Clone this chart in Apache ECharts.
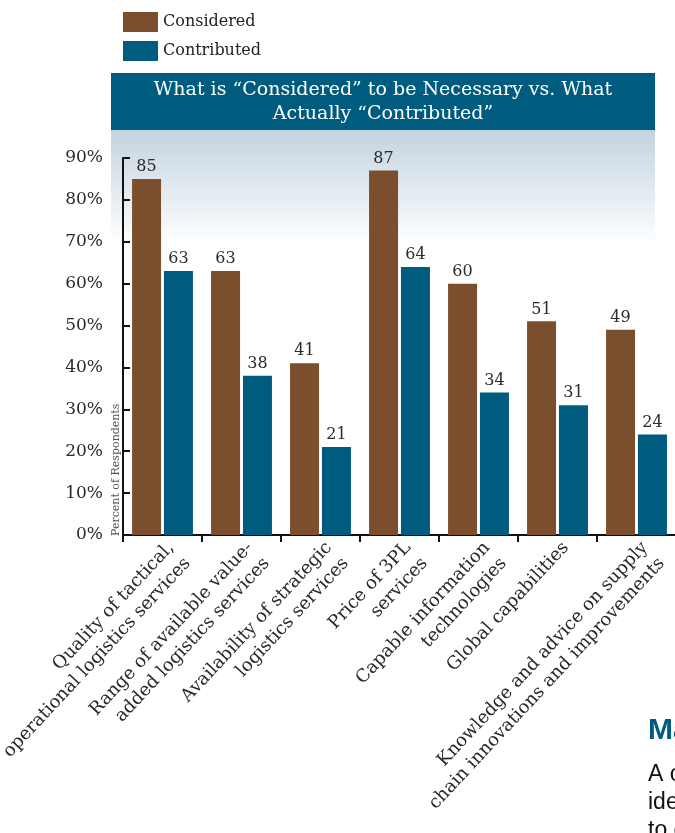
<!DOCTYPE html>
<html>
<head>
<meta charset="utf-8">
<script src="https://cdn.jsdelivr.net/npm/echarts@6/dist/echarts.min.js"></script>
<style>
html,body{margin:0;padding:0;background:#fff;}
#chart{width:675px;height:833px;}
</style>
</head>
<body>
<div id="chart"></div>
<script>
var categories = [
  "Quality of tactical,\noperational logistics services",
  "Range of available value-\nadded logistics services",
  "Availability of strategic\nlogistics services",
  "Price of 3PL\nservices",
  "Capable information\ntechnologies",
  "Global capabilities",
  "Knowledge and advice on supply\nchain innovations and improvements"
];
var considered = [85, 63, 41, 87, 60, 51, 49];
var contributed = [63, 38, 21, 64, 34, 31, 24];
var yTicks = [0, 10, 20, 30, 40, 50, 60, 70, 80, 90];
var titleText = "What is \u201cConsidered\u201d to be Necessary vs. What\nActually \u201cContributed\u201d";

var SERIF = "DejaVu Serif";
var BROWN = "#7b4f2d";
var BLUE = "#005c7e";

var chart = echarts.init(document.getElementById('chart'));
chart.setOption({
  animation: false,
  backgroundColor: '#fff',
  legend: {
    orient: 'vertical',
    left: 123, top: 12, padding: 0,
    itemWidth: 35, itemHeight: 20, itemGap: 9,
    icon: 'rect',
    textStyle: {fontFamily: SERIF, fontSize: 16, color: '#222'},
    data: ['Considered', 'Contributed']
  },
  graphic: [
    {type: 'rect', z: -10, shape: {x: 111, y: 130, width: 544, height: 115},
     style: {fill: new echarts.graphic.LinearGradient(0,0,0,1,[{offset:0,color:'#c3d3e0'},{offset:1,color:'#ffffff'}])}},
    {type: 'rect', z: -5, shape: {x: 111, y: 73, width: 544, height: 57}, style: {fill: BLUE}},
    {type: 'text', z: -4, x: 383, y: 102, style: {text: titleText, fill: '#fff', font: '19px "DejaVu Serif"', textAlign: 'center', textVerticalAlign: 'middle', lineHeight: 24}},
    {type: 'text', x: 116, y: 536, rotation: Math.PI/2, style: {text: 'Percent of Respondents', fill: '#555', font: '11px "DejaVu Serif"', textAlign: 'left', textVerticalAlign: 'middle'}},
    {type: 'text', x: 648, y: 716, style: {text: 'Ma', fill: BLUE, font: 'bold 30px "Liberation Sans Narrow", "Liberation Sans"', textAlign: 'left', textVerticalAlign: 'top'}},
    {type: 'text', x: 648, y: 761, style: {text: 'A c\nide\nto c', fill: '#111', font: '23px "Liberation Sans Narrow", "Liberation Sans"', textAlign: 'left', textVerticalAlign: 'top', lineHeight: 28}}
  ],
  grid: {left: 123, right: -1, top: 158, bottom: 298, containLabel: false, outerBoundsMode: 'none'},
  xAxis: {
    type: 'category',
    data: categories,
    axisLine: {lineStyle: {color: '#111', width: 2}},
    axisTick: {show: true, length: 7, lineStyle: {color: '#111', width: 2}},
    axisLabel: {
      interval: 0, rotate: 47, margin: 2,
      fontFamily: SERIF, fontSize: 18, color: '#2a2a2a', lineHeight: 23,
      verticalAlign: 'top'
    }
  },
  yAxis: {
    type: 'value', min: 0, max: 90, interval: 10,
    axisLine: {show: true, lineStyle: {color: '#111', width: 2}},
    axisTick: {show: true, inside: true, length: 7, lineStyle: {color: '#111', width: 2}},
    splitLine: {show: false},
    axisLabel: {
      margin: 20, fontFamily: SERIF, fontSize: 17, color: '#2a2a2a',
      formatter: function (v) { return yTicks.indexOf(v) >= 0 ? v + '%' : ''; }
    }
  },
  series: [
    {name: 'Considered', type: 'bar', data: considered, barWidth: 29, barGap: '10%',
     itemStyle: {color: BROWN},
     label: {show: true, position: 'top', distance: 4, fontFamily: SERIF, fontSize: 16, color: '#2a2a2a'}},
    {name: 'Contributed', type: 'bar', data: contributed, barWidth: 29,
     itemStyle: {color: BLUE},
     label: {show: true, position: 'top', distance: 4, fontFamily: SERIF, fontSize: 16, color: '#2a2a2a'}}
  ]
});
</script>
</body>
</html>
